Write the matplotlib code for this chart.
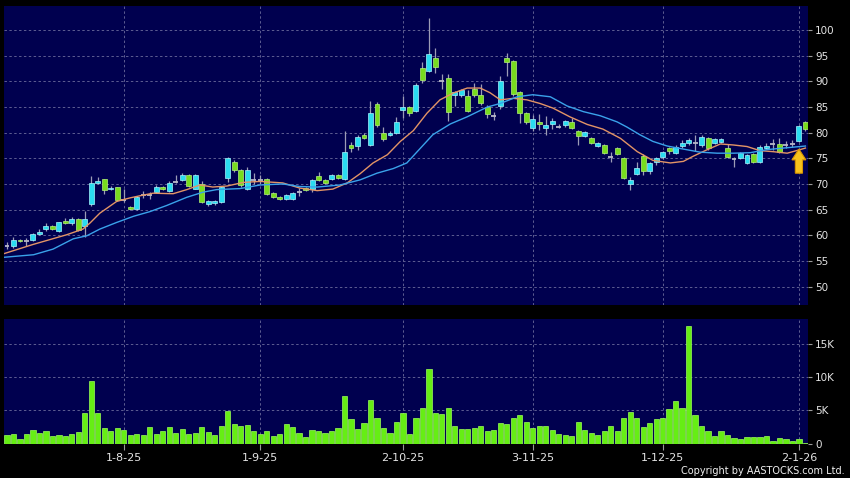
"""AASTOCKS-style daily candlestick chart with volume panel."""

import matplotlib
matplotlib.use("Agg")
import matplotlib.pyplot as plt
import numpy as np
from matplotlib.patches import FancyArrow

# ---- data (one entry per trading day) ----
opens = [
    58.0, 57.9, 59.1, 58.8, 59.1, 60.3, 61.3, 61.8, 60.9, 62.8,
    62.3, 63.2, 61.8, 66.0, 70.2, 70.9, 69.0, 69.4, 66.9, 65.6,
    65.1, 67.9, 67.9, 68.4, 69.5, 68.7, 70.4, 70.7, 71.7, 69.1,
    70.0, 66.0, 66.2, 66.5, 71.1, 74.3, 72.8, 69.0, 70.8, 70.8,
    71.0, 68.3, 67.4, 67.1, 67.1, 68.5, 69.2, 69.0, 71.5, 70.8,
    71.0, 71.7, 71.0, 77.5, 77.4, 79.6, 77.6, 85.5, 80.0, 79.6,
    80.0, 84.4, 85.0, 84.2, 92.6, 92.1, 94.5, 90.1, 90.6, 87.3,
    87.3, 87.1, 88.6, 87.3, 85.1, 83.2, 85.2, 94.5, 93.9, 87.9,
    83.8, 80.9, 82.0, 81.0, 81.7, 81.2, 81.4, 82.0, 80.3, 79.4,
    78.9, 77.4, 77.5, 75.3, 77.1, 75.0, 70.0, 71.9, 75.5, 72.5,
    74.2, 75.2, 77.0, 76.0, 77.4, 78.0, 77.9, 77.5, 78.9, 78.0,
    78.2, 77.0, 74.9, 75.1, 74.1, 75.8, 74.3, 77.1, 77.7, 77.8,
    77.6, 77.8, 78.4, 82.1,
]
closes = [
    58.0, 59.1, 58.8, 58.8, 60.2, 60.6, 61.8, 61.3, 62.5, 62.4,
    63.2, 61.1, 63.2, 70.2, 70.6, 68.9, 69.3, 66.8, 66.9, 65.1,
    67.4, 67.9, 67.9, 69.4, 69.1, 70.2, 70.4, 71.7, 69.7, 71.7,
    66.5, 66.6, 66.6, 69.5, 75.0, 72.8, 69.8, 72.8, 70.8, 70.8,
    68.1, 67.5, 67.1, 67.8, 68.2, 68.5, 68.8, 70.8, 70.8, 70.2,
    71.7, 71.1, 76.3, 77.0, 79.2, 79.0, 83.8, 81.5, 78.7, 80.0,
    82.0, 85.0, 83.8, 89.3, 90.2, 95.4, 92.8, 90.1, 84.1, 87.9,
    88.4, 84.3, 87.3, 85.7, 83.7, 83.2, 90.0, 93.8, 87.5, 83.9,
    82.1, 82.6, 81.7, 81.5, 82.3, 81.2, 82.3, 80.9, 79.4, 80.1,
    78.0, 77.9, 76.0, 75.3, 75.8, 71.1, 70.8, 73.2, 72.6, 74.0,
    75.1, 76.3, 76.5, 77.3, 78.0, 78.5, 77.9, 79.2, 77.0, 78.7,
    78.8, 75.3, 74.9, 76.0, 75.6, 74.2, 77.3, 77.4, 77.7, 76.3,
    77.6, 77.8, 81.3, 80.7,
]
highs = [
    58.6, 59.6, 59.3, 59.5, 60.4, 61.3, 62.3, 62.0, 62.6, 63.4,
    63.5, 63.4, 64.8, 71.6, 71.4, 71.0, 69.6, 69.5, 69.0, 65.8,
    67.6, 68.6, 68.5, 69.8, 69.7, 70.6, 71.7, 72.1, 71.9, 71.9,
    70.6, 66.8, 66.8, 69.7, 75.2, 74.6, 73.0, 73.4, 72.1, 71.7,
    71.2, 68.5, 67.6, 68.0, 68.5, 69.2, 69.4, 71.0, 72.3, 71.0,
    72.0, 71.9, 80.3, 78.2, 79.6, 79.9, 86.1, 86.0, 81.2, 80.3,
    83.0, 87.1, 85.2, 89.6, 93.8, 102.4, 96.6, 91.5, 91.4, 88.2,
    88.6, 88.4, 89.6, 89.4, 85.3, 84.0, 91.1, 95.6, 94.1, 88.1,
    84.0, 83.4, 83.6, 83.2, 82.8, 81.6, 82.5, 82.8, 80.5, 80.3,
    79.1, 78.1, 77.7, 76.2, 77.3, 75.2, 71.3, 74.2, 75.8, 74.2,
    75.3, 76.5, 77.3, 77.5, 78.6, 78.9, 79.5, 79.5, 79.2, 78.9,
    79.0, 77.7, 75.3, 76.2, 75.9, 76.0, 77.6, 77.9, 78.8, 78.9,
    78.3, 78.5, 81.5, 82.3,
]
lows = [
    57.4, 57.6, 58.6, 57.9, 58.9, 60.0, 60.9, 61.1, 60.7, 62.1,
    62.0, 60.8, 59.7, 65.8, 70.0, 68.0, 68.8, 66.6, 66.4, 64.9,
    65.0, 67.2, 67.1, 68.2, 68.9, 68.5, 70.1, 70.5, 69.4, 69.0,
    66.3, 65.7, 65.9, 66.3, 70.4, 72.3, 69.5, 68.8, 70.0, 69.9,
    67.9, 67.2, 66.8, 66.8, 66.8, 67.7, 68.6, 68.4, 70.6, 70.0,
    70.8, 70.9, 70.8, 76.2, 76.7, 78.8, 77.4, 81.2, 78.4, 79.4,
    79.8, 82.9, 83.2, 84.0, 89.6, 91.9, 91.7, 88.6, 82.3, 85.2,
    87.0, 84.0, 86.9, 85.4, 82.9, 82.5, 84.6, 91.0, 87.2, 81.8,
    81.6, 80.4, 80.6, 79.5, 80.7, 80.9, 81.2, 80.7, 77.5, 79.2,
    77.8, 77.2, 75.8, 74.2, 75.6, 70.9, 68.9, 71.7, 71.8, 71.9,
    73.7, 74.8, 75.9, 75.8, 77.0, 77.6, 76.4, 77.2, 76.6, 77.8,
    78.0, 75.1, 73.4, 74.9, 73.9, 74.0, 74.1, 76.9, 76.6, 76.1,
    77.0, 77.3, 78.2, 80.4,
]
volumes_k = [
    1.25, 1.4, 0.75, 1.45, 2.1, 1.6, 1.95, 1.1, 1.25, 1.2,
    1.4, 1.7, 4.6, 9.4, 4.6, 2.3, 1.9, 2.3, 2.0, 1.3,
    1.4, 1.3, 2.5, 1.5, 1.9, 2.45, 1.6, 2.15, 1.45, 1.65,
    2.55, 1.7, 1.3, 2.65, 4.9, 3.0, 2.6, 2.85, 1.9, 1.4,
    1.9, 1.1, 1.5, 3.0, 2.45, 1.55, 1.0, 2.1, 1.95, 1.55,
    1.95, 2.4, 7.2, 3.7, 2.25, 3.05, 6.6, 3.9, 2.4, 1.65,
    3.2, 4.6, 1.5, 3.8, 5.4, 11.3, 4.6, 4.5, 5.4, 2.7,
    2.2, 2.2, 2.4, 2.6, 1.9, 2.0, 3.1, 3.0, 3.9, 4.3,
    3.2, 2.3, 2.6, 2.6, 2.1, 1.5, 1.25, 1.1, 3.3, 2.0,
    1.65, 1.3, 1.9, 2.65, 1.9, 3.9, 4.7, 3.8, 2.45, 3.05,
    3.75, 3.9, 5.2, 6.4, 5.3, 17.8, 4.3, 2.6, 1.9, 1.1,
    1.85, 1.3, 0.8, 0.7, 0.95, 1.05, 1.0, 1.15, 0.45, 0.8,
    0.65, 0.45, 0.7, 0.15,
]

# moving averages as drawn on the chart (bar index, price)
ma_short_idx = [
    -0.5, 4.0, 9.2, 11.7, 12.8, 14.3, 16.9, 19.0, 20.5, 22.5,
    25.6, 27.7, 29.7, 31.7, 33.9, 36.4, 39.0, 42.5, 45.1, 47.8,
    50.2, 52.4, 54.4, 56.4, 58.6, 60.6, 62.6, 64.7, 66.7, 68.7,
    70.9, 72.9, 74.4, 76.0, 78.0, 80.1, 82.1, 84.1, 86.7, 89.4,
    91.8, 94.5, 97.1, 99.5, 102.2, 104.2, 105.7, 107.9, 109.9, 111.9,
    114.0, 116.0, 118.0, 120.2, 122.2, 123.0,
]
ma_short = [
    56.4, 58.2, 60.1, 61.2, 62.4, 64.3, 66.6, 67.3, 67.7, 68.2,
    68.1, 68.9, 69.8, 69.4, 69.6, 70.3, 70.5, 70.2, 69.2, 68.7,
    69.0, 70.2, 72.0, 74.1, 75.7, 78.3, 80.4, 83.8, 86.4, 87.7,
    88.7, 88.7, 87.8, 86.4, 86.7, 86.4, 85.7, 84.8, 83.1, 81.6,
    80.7, 78.9, 76.3, 74.6, 74.1, 74.4, 75.4, 76.7, 77.8, 77.6,
    77.3, 76.5, 76.3, 76.0, 76.7, 77.0,
]
ma_long_idx = [
    -0.5, 4.1, 7.1, 10.2, 12.3, 14.3, 16.9, 19.5, 22.0, 24.6,
    27.7, 30.2, 32.3, 35.9, 39.0, 42.5, 45.1, 47.8, 51.3, 54.4,
    57.0, 59.5, 61.6, 63.2, 65.6, 68.3, 70.9, 74.0, 76.0, 78.6,
    81.0, 83.7, 86.3, 88.8, 91.4, 94.0, 95.5, 97.5, 99.5, 101.7,
    104.2, 106.8, 109.4, 111.9, 114.5, 117.1, 119.6, 122.2, 123.0,
]
ma_long = [
    55.7, 56.2, 57.3, 59.3, 59.9, 61.2, 62.5, 63.7, 64.6, 65.8,
    67.4, 68.4, 68.9, 69.1, 69.8, 70.0, 69.5, 69.4, 69.8, 70.8,
    72.1, 73.0, 74.1, 76.3, 79.6, 81.7, 83.1, 85.0, 85.7, 87.0,
    87.4, 87.0, 85.2, 84.1, 83.3, 82.1, 81.1, 79.6, 78.3, 77.4,
    76.8, 76.2, 76.0, 76.0, 76.1, 76.7, 77.0, 77.3, 77.4,
]

tick_idx = [18, 39, 61, 81, 101, 122]
tick_labels = ["1-8-25", "1-9-25", "2-10-25", "3-11-25", "1-12-25", "2-1-26"]
price_ticks = [50, 55, 60, 65, 70, 75, 80, 85, 90, 95, 100]
vol_ticks = [0, 5, 10, 15]
vol_tick_labels = ["0", "5K", "10K", "15K"]
arrow_idx = 122
arrow_base, arrow_tip = 72.1, 76.8

# ---- styling ----
BG = "#000000"
PANEL = "#00004f"
GRID = "#5d5d92"
TEXT = "#e4e4e4"
UP = "#2adcf0"
DOWN = "#78dc1e"
WICK = "#9c9cb6"
VOL = "#66ee14"

W, H = 850, 478
fig = plt.figure(figsize=(W / 100, H / 100), dpi=100, facecolor=BG)
ax = fig.add_axes([4 / W, 1 - 305 / H, 804 / W, 299 / H], facecolor=PANEL)
axv = fig.add_axes([4 / W, 1 - 443.5 / H, 804 / W, 125 / H], facecolor=PANEL)

x = np.arange(len(closes))
o, h, l, c = (np.array(a) for a in (opens, highs, lows, closes))
up = c > o
down = c < o
flat = c == o
bw = 0.76

ax.vlines(x, l, h, color=WICK, linewidth=0.9, zorder=2)
ax.bar(x[up], (c - o)[up], bottom=o[up], width=bw, color=UP,
       edgecolor="#a6f6ff", linewidth=0.5, zorder=3)
ax.bar(x[down], (o - c)[down], bottom=c[down], width=bw, color=DOWN,
       edgecolor="#b4f27a", linewidth=0.5, zorder=3)
ax.hlines(c[flat], x[flat] - bw / 2, x[flat] + bw / 2, color="#b8b8c8",
          linewidth=1.3, zorder=3)

ax.plot(ma_short_idx, ma_short, color="#e39466", linewidth=1.0, zorder=4)
ax.plot(ma_long_idx, ma_long, color="#3aa2ea", linewidth=1.0, zorder=4)

ax.add_patch(FancyArrow(arrow_idx, arrow_base, 0, arrow_tip - arrow_base,
                        width=1.1, head_width=2.15, head_length=2.1,
                        length_includes_head=True, facecolor="#f7c21c",
                        edgecolor="#d99500", linewidth=0.8, zorder=6))

axv.bar(x, volumes_k, width=0.8, color=VOL, edgecolor="#9cff5a",
        linewidth=0.5, zorder=3)

xlim = (-0.46, 123.4)
for a in (ax, axv):
    a.set_xlim(*xlim)
    for s in a.spines.values():
        s.set_visible(False)
    a.set_xticks(tick_idx)
    a.yaxis.tick_right()
    a.grid(True, color=GRID, linestyle=(0, (2.5, 2.5)), linewidth=0.7)
    a.set_axisbelow(True)
    a.tick_params(axis="y", colors="#9a9a9a", labelcolor=TEXT, length=3,
                  width=0.8, pad=2, labelsize=7.5)

ax.set_ylim(46.4, 104.7)
ax.set_yticks(price_ticks)
ax.tick_params(axis="x", bottom=False, labelbottom=False)

axv.set_ylim(0, 18.9)
axv.set_yticks(vol_ticks)
axv.set_yticklabels(vol_tick_labels)
axv.set_xticklabels(tick_labels)
axv.tick_params(axis="x", colors="#9a9a9a", labelcolor=TEXT, length=4,
                width=0.8, pad=3, labelsize=8)

fig.text(845 / W, 1 - 476 / H, "Copyright by AASTOCKS.com Ltd.", color="#f0f0f0",
         fontsize=7, ha="right", va="bottom")

fig.savefig("out.png", dpi=100, facecolor=BG)
plt.close(fig)
